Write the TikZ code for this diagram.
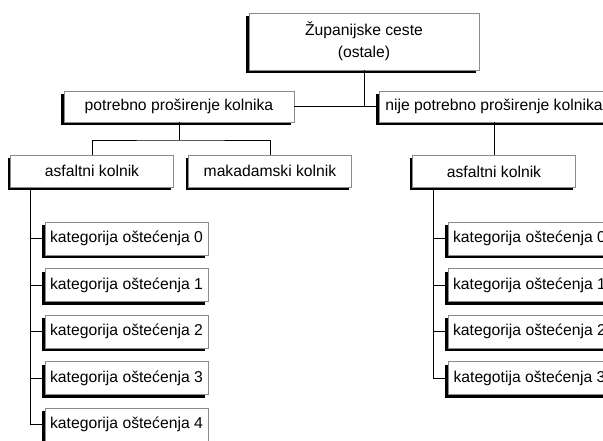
\documentclass[tikz,border=0pt]{standalone}
\usepackage{fontspec}
\setmainfont{Liberation Sans}
\usetikzlibrary{shadows}
\tikzset{
  box/.style={draw=black!45, line width=0.8pt, fill=white, inner sep=0pt, align=center,
    drop shadow={shadow xshift=-3pt, shadow yshift=-3pt, fill=black, opacity=1},
    font=\fontsize{15.7}{22}\selectfont},
  wide/.style={box, minimum width=230pt, minimum height=31pt},
  mid/.style={box, minimum width=163pt, minimum height=32pt},
  cat/.style={box, minimum width=163pt, minimum height=33pt},
  conn/.style={draw=black, line width=0.9pt}
}
\begin{document}
\begin{tikzpicture}[x=1pt,y=-1pt]
\useasboundingbox (0,0) rectangle (603,441);
\clip (0,0) rectangle (603,441);
% connectors first
\coordinate (tj) at (364,106);
\coordinate (j1) at (180,140);
\coordinate (l0) at (30,188);
\coordinate (r0) at (433,188);
% nodes
\node[box, minimum width=230pt, minimum height=57pt] (top) at (364,41.5) {Županijske ceste\\(ostale)};
\node[wide] (potrebno) at (179,106.5) {potrebno proširenje kolnika};
\node[wide] (nije) at (494,106.5) {nije potrebno proširenje kolnika};
\node[mid] (asfL) at (92,171) {asfaltni kolnik};
\node[mid] (mak) at (270,171) {makadamski kolnik};
\node[mid] (asfR) at (494,171.5) {asfaltni kolnik};
\foreach \i/\y in {0/238.5,1/285,2/331.5,3/378,4/424.5}{
  \node[cat] (kL\i) at (126.5,\y) {kategorija oštećenja \i};
}
\foreach \i/\y/\t in {0/238.5/kategorija,1/285/kategorija,2/331.5/kategorija,3/378/kategotija}{
  \node[cat] (kR\i) at (529.5,\y) {\t{} oštećenja \i};
}
% connectors
\draw[conn] (potrebno.east) -- (nije.west);
\draw[conn] (top.south) -- (top.south |- tj);
\draw[conn] (potrebno.south) -- (potrebno.south |- j1);
\draw[conn] (asfL.north) |- (j1) -| (mak.north);
\draw[conn] (nije.south) -- (asfR.north);
\draw[conn] (l0) |- (kL4.west);
\foreach \i in {0,1,2,3}{ \draw[conn] (kL\i.west) -- (kL\i.west -| l0); }
\draw[conn] (r0) |- (kR3.west);
\foreach \i in {0,1,2}{ \draw[conn] (kR\i.west) -- (kR\i.west -| r0); }
\end{tikzpicture}
\end{document}
